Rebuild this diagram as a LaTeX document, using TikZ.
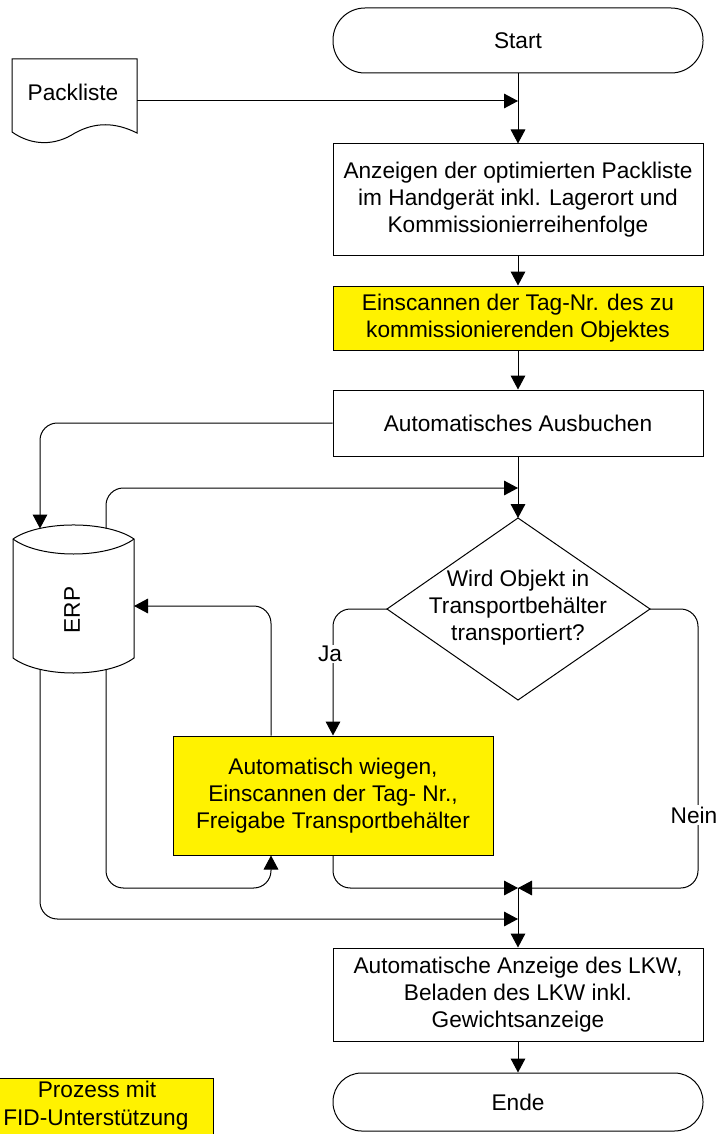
\documentclass[tikz,border=0pt]{standalone}
\usepackage{fontspec}
\setmainfont{Liberation Sans}
\usetikzlibrary{arrows.meta}
\begin{document}
\begin{tikzpicture}[x=0.75pt,y=-0.75pt,
  font=\fontsize{17}{20.3}\selectfont,
  ln/.style={line width=0.75pt},
  box/.style={draw, ln, minimum width=277.5pt, align=center, inner sep=0pt},
  yel/.style={box, fill=yellow},
  arr/.style={ln, -{Triangle[length=10.5pt,width=11pt]}},
  rc/.style={rounded corners=13pt},
  lbl/.style={fill=white, inner sep=1pt}]
\useasboundingbox (0,0) rectangle (719,1134);
\clip (0,0) rectangle (719,1134);

% main column
\node[box, rounded corners=24pt, minimum height=48.75pt] (start) at (518,40.5) {Start};
\node[box, minimum height=83.25pt] (anz) at (518,199.5) {Anzeigen der optimierten Packliste\\im Handgerät inkl. Lagerort und\\Kommissionierreihenfolge};
\node[yel, minimum height=48pt] (scan) at (518,318) {Einscannen der Tag-Nr. des zu\\kommissionierenden Objektes};
\node[box, minimum height=49.5pt] (aus) at (518,423) {Automatisches Ausbuchen};
\node[box, minimum height=69.75pt] (lkw) at (518,994.5) {Automatische Anzeige des LKW,\\Beladen des LKW inkl.\\Gewichtsanzeige};
\node[box, rounded corners=21.5pt, minimum height=43.5pt] (ende) at (518,1102) {Ende};

% decision
\coordinate (decT) at (518,518);
\coordinate (decL) at (387,609);
\coordinate (decR) at (650,609);
\coordinate (decB) at (518,700);
\draw[ln] (decT) -- (decR) -- (decB) -- (decL) -- cycle;
\node[align=center, inner sep=0pt] (dec) at (518,608) {Wird Objekt in\\Transportbehälter\\transportiert?};

% yellow process
\node[yel, minimum width=240pt, minimum height=89.25pt] (wieg) at (333,795.5) {Automatisch wiegen,\\Einscannen der Tag- Nr.,\\Freigabe Transportbehälter};

% Packliste document
\draw[ln] (12,59) -- (137,59) -- (137,133) .. controls (115,122) and (95,122) .. (75,133)
  .. controls (55,146) and (32,146) .. (12,132) -- cycle;
\node (pack) at (73,92) {Packliste};
\coordinate (packR) at (137,101);

% ERP store
\draw[ln] (13,539) .. controls (40,520.3) and (107,520.3) .. (134,539) -- (134,658)
  .. controls (107,678) and (40,678) .. (13,658) -- cycle;
\draw[ln] (13,539) .. controls (40,559) and (107,559) .. (134,539);
\node[rotate=90] (erp) at (72,610) {ERP};
\coordinate (erpT1) at (40,528.5);
\coordinate (erpT2) at (106,528.5);
\coordinate (erpR) at (134,606);
\coordinate (erpB1) at (40,669);
\coordinate (erpB2) at (106,669);

% merge points
\coordinate (m1) at (518,101);
\coordinate (m2) at (518,488);
\coordinate (m3) at (518,888);
\coordinate (m4) at (518,919);
\coordinate (wN) at ([xshift=-46.5pt]wieg.north);
\coordinate (wS) at ([xshift=-46.5pt]wieg.south);

% connectors
\draw[arr] (start) -- (anz);
\draw[arr] (packR) -- (m1);
\draw[arr] (anz) -- (scan);
\draw[arr] (scan) -- (aus);
\draw[arr] (aus) -- (decT);
\draw[arr, rc] (aus.west) -| (erpT1);
\draw[arr, rc] (erpT2) |- (m2);
\draw[arr, rc] (decL) -| (wieg.north);
\node[lbl] (ja) at (330,654) {Ja};
\draw[arr, rc] (decR) -- (698,609) -- (698,888) -- (m3);
\node[lbl] (nein) at (694,815) {Nein};
\draw[arr, rc] (wN) |- (erpR);
\draw[arr, rc] (erpB2) -- (erpB2 |- m3) -- (wS |- m3) -- (wS);
\draw[arr, rc] (wieg.south) |- (m3);
\draw[arr, rc] (erpB1) |- (m4);
\draw[arr] (m3) -- (lkw);
\draw[arr] (lkw) -- (ende);

% legend
\draw[ln, fill=yellow] (-5,1078) rectangle (213,1140);
\node (leg1) at (97,1089) {Prozess mit};
\node[anchor=west, inner sep=0pt] (leg2) at (3,1120) {FID-Unterstützung};
\end{tikzpicture}
\end{document}
